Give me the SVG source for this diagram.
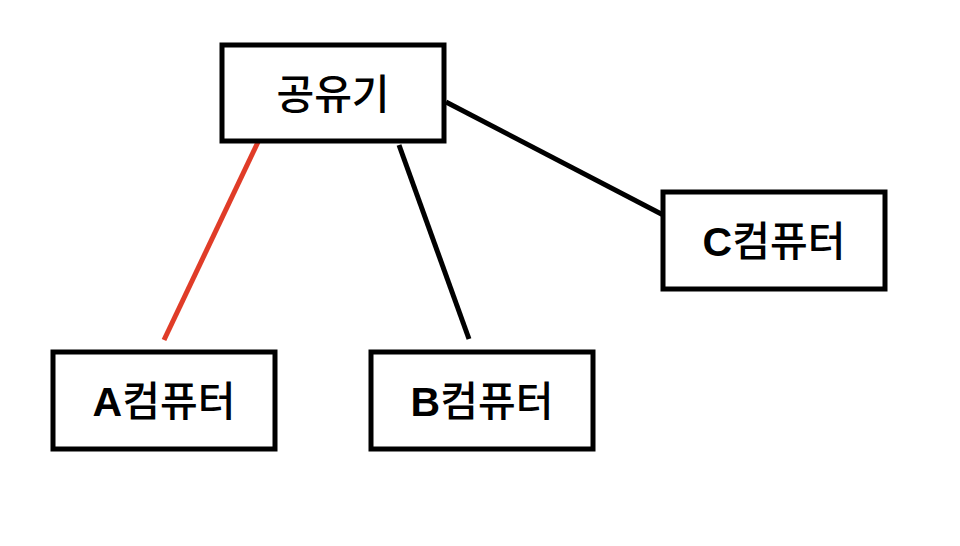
<svg xmlns="http://www.w3.org/2000/svg" width="960" height="546" viewBox="0 0 960 546">
<style>
.box{fill:#fff;stroke:#000;stroke-width:5}
.lbl{font-family:"Noto Sans CJK KR","Liberation Sans",sans-serif;font-size:41px;font-weight:500;fill:#000;text-anchor:middle}
.lat{font-family:"Liberation Sans","Noto Sans CJK KR",sans-serif;font-weight:bold}
.ln{stroke-width:5;fill:none}
</style>
<rect width="960" height="546" fill="#fff"/>
<g id="connectors">
<line class="ln" x1="258" y1="142" x2="164" y2="340" stroke="#e03c28"/>
<line class="ln" x1="399" y1="145" x2="469" y2="339" stroke="#000"/>
<line class="ln" x1="446" y1="102" x2="669" y2="218" stroke="#000"/>
</g>
<g id="router">
<rect class="box" x="222" y="45" width="222" height="96"/>
<text class="lbl" x="333" y="109">공유기</text>
</g>
<g id="pcA">
<rect class="box" x="53" y="352" width="222" height="97"/>
<text class="lbl" x="164" y="416"><tspan class="lat">A</tspan>컴퓨터</text>
</g>
<g id="pcB">
<rect class="box" x="371" y="352" width="222" height="97"/>
<text class="lbl" x="482" y="416"><tspan class="lat">B</tspan>컴퓨터</text>
</g>
<g id="pcC">
<rect class="box" x="663" y="192" width="222" height="97"/>
<text class="lbl" x="774" y="256"><tspan class="lat">C</tspan>컴퓨터</text>
</g>
</svg>
